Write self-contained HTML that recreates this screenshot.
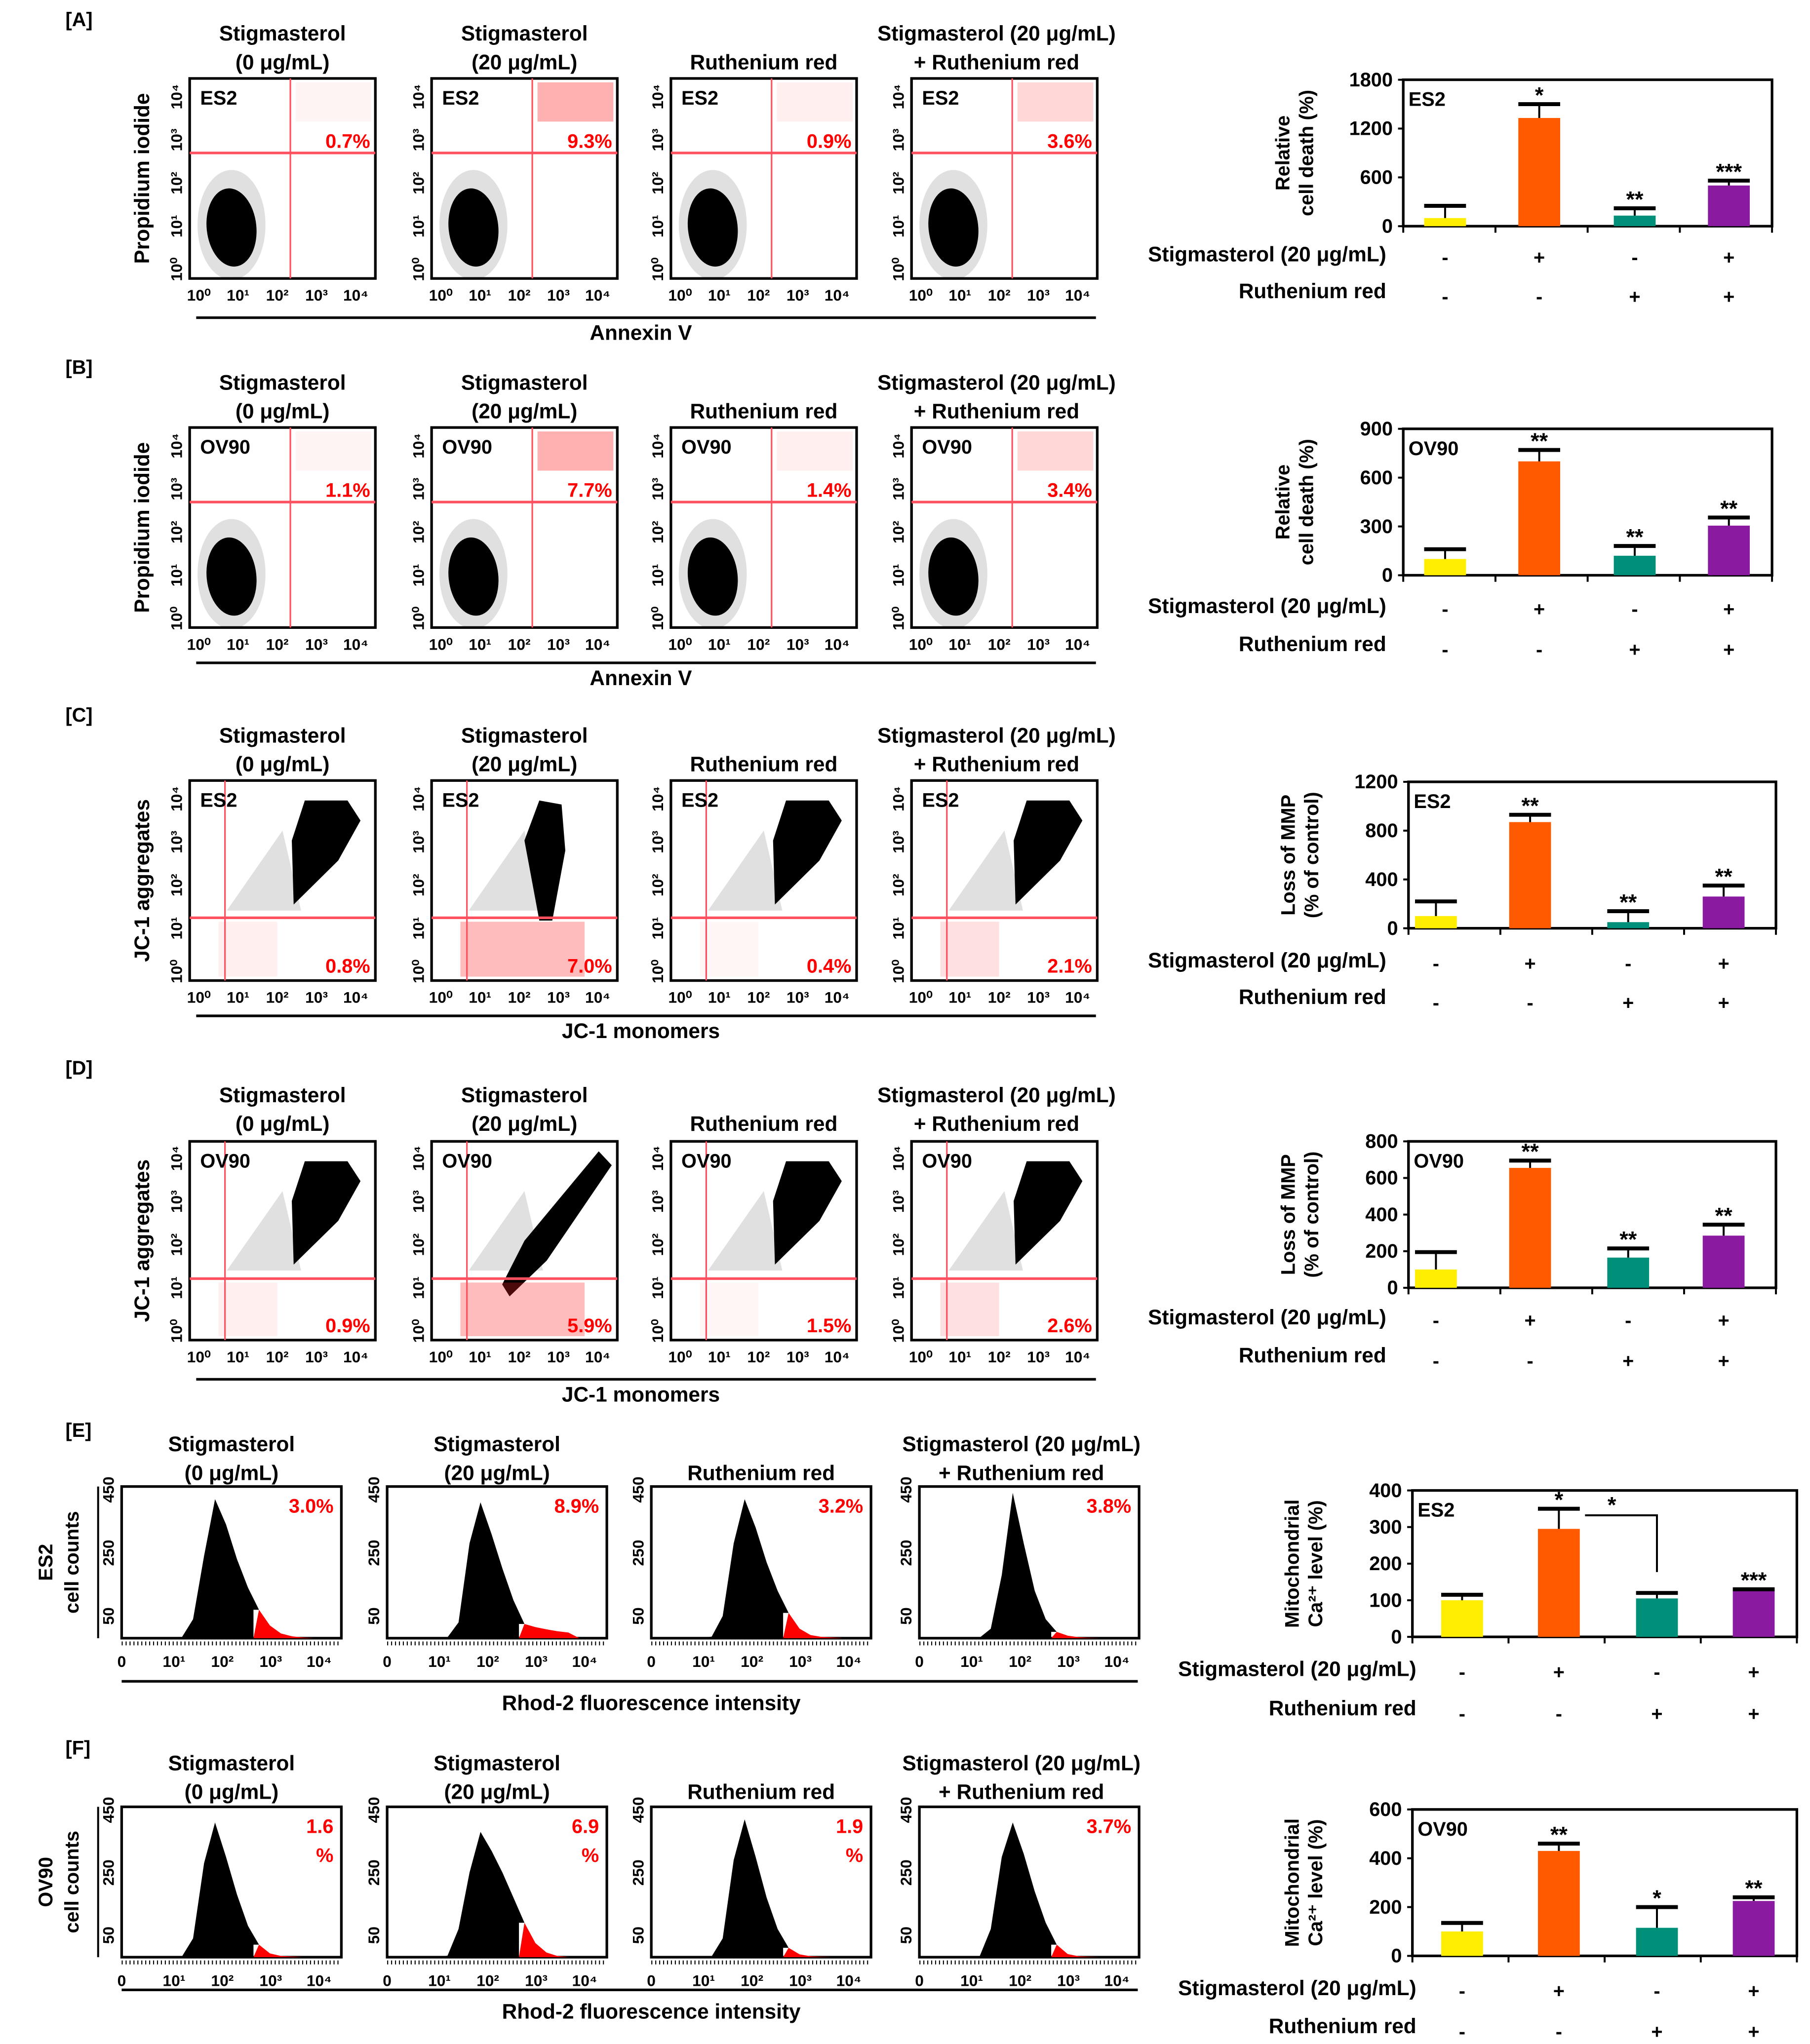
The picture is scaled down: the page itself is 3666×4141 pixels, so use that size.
<!DOCTYPE html>
<html><head><meta charset="utf-8">
<style>
html,body{margin:0;padding:0;background:#fff;}
svg{display:block;}
text{font-family:"Liberation Sans",sans-serif;font-weight:bold;}
</style></head>
<body>
<svg id="fig" xmlns="http://www.w3.org/2000/svg" width="3666" height="4141" viewBox="0 0 1384 1563.4"></svg>
<script>
// ---- data ----
const titles = [["Stigmasterol","(0 μg/mL)"],["Stigmasterol","(20 μg/mL)"],["Ruthenium red"],["Stigmasterol (20 μg/mL)","+ Ruthenium red"]];
const pctA = ["0.7%","9.3%","0.9%","3.6%"];
const pctB = ["1.1%","7.7%","1.4%","3.4%"];
const pctC = ["0.8%","7.0%","0.4%","2.1%"];
const pctD = ["0.9%","5.9%","1.5%","2.6%"];
const pctE = ["3.0%","8.9%","3.2%","3.8%"];
const pctF = ["1.6 %","6.9 %","1.9 %","3.7%"];
const ticksA = [0,600,1200,1800];
const valsA = [100,1330,130,500];
const errA = [150,170,90,60];
const starsA = ["","*","**","***"];
const ticksB = [0,300,600,900];
const valsB = [100,700,120,305];
const errB = [60,70,60,50];
const starsB = ["","**","**","**"];
const ticksC = [0,400,800,1200];
const valsC = [100,870,50,260];
const errC = [120,60,90,90];
const starsC = ["","**","**","**"];
const ticksD = [0,200,400,600,800];
const valsD = [100,655,165,285];
const errD = [95,40,50,60];
const starsD = ["","**","**","**"];
const ticksE = [0,100,200,300,400];
const valsE = [100,295,105,125];
const errE = [15,55,15,5];
const starsE = ["","*","","***"];
const ticksF = [0,200,400,600];
const valsF = [100,430,115,225];
const errF = [35,30,85,15];
const starsF = ["","**","*","**"];
const stigSigns = ["-","+","-","+"];
const rrSigns = ["-","-","+","+"];
const histE = [
 [0,0,0,0,0,4,60,260,440,360,250,160,90,40,15,6,2,0,0,0],
 [0,0,0,0,0,3,50,300,430,330,220,120,45,35,28,22,18,0,0,0],
 [0,0,0,0,0,5,70,300,440,350,240,150,80,30,10,4,2,0,0,0],
 [0,0,0,0,0,2,30,200,460,300,150,60,20,8,3,1,0,0,0,0]];
const histF = [
 [0,0,0,0,0,3,60,300,430,320,200,100,40,12,4,2,0,0,0,0],
 [0,0,0,0,0,5,90,270,400,340,270,190,110,45,15,4,0,0,0,0],
 [0,0,0,0,0,3,60,310,440,320,190,90,30,9,3,1,0,0,0,0],
 [0,0,0,0,0,4,90,320,430,330,210,110,40,10,3,1,0,0,0,0]];
const redStart = 12;

// ---- helpers ----
const NS="http://www.w3.org/2000/svg";
const svg=document.getElementById('fig');
function mk(tag,attrs,parent){const e=document.createElementNS(NS,tag);for(const k in attrs)e.setAttribute(k,attrs[k]);(parent||svg).appendChild(e);return e;}
function txt(x,y,s,size,opts,parent){const o=Object.assign({x:x,y:y,'font-size':size,fill:'#000'},opts||{});const t=mk('text',o,parent);t.textContent=s;return t;}

const colors=["#ffee00","#ff5a00","#00907a","#8a1aa0"];
const sup=["10⁰","10¹","10²","10³","10⁴"];
const sX=[145,330,513,697], sW=142;
const hX=[93,296,498,703], hW=168;

function panelLabel(s,y){const t=txt(50,y,s,15);

}

function drawTitles(xs,w,y1,y2){
 titles.forEach((tl,i)=>{const cx=xs[i]+w/2+(i==3?-6:0);
  if(tl.length==2){const a=txt(cx,y1,tl[0],16,{'text-anchor':'middle'});
   
   
   const b=txt(cx,y2,tl[1],16,{'text-anchor':'middle'});
   
   }
  else{const a=txt(cx,y2,tl[0],16,{'text-anchor':'middle'});
   
   }
 });
}

function scatterRow(y0,h,cell,pcts,type,ylab,xlab,xlabY){
 const yl=txt(0,0,ylab,16,{transform:`translate(114,${y0+h/2}) rotate(-90)`,'text-anchor':'middle'});
 
 
 sX.forEach((x,i)=>{
  const g=mk('g',{});
  
  
  const f=mk('rect',{x:x,y:y0,width:sW,height:h,fill:'#fff',stroke:'#000','stroke-width':2},g);
  
  
  const qx = type=='pi'? x+77 : x+27;
  const qy = type=='pi'? y0+57 : y0+105;
  if(type=='pi'){
   const c2=mk('ellipse',{cx:x+32,cy:y0+112,rx:26,ry:42,fill:'#000',opacity:0.12},g);
   
   
   const c=mk('ellipse',{cx:x+32,cy:y0+114,rx:19,ry:30,fill:'#000',transform:`rotate(-6 ${x+32} ${y0+114})`},g);
   
   
   const op=[0.05,0.35,0.07,0.18][i];
   const r=mk('rect',{x:qx+4,y:y0+3,width:x+sW-qx-7,height:30,fill:'#ff2020',opacity:op},g);
   
   
  } else {
   const sh = type=='jcD' && i==1;
   const pts = sh ? [[0.38,0.72],[0.5,0.5],[0.9,0.05],[0.97,0.12],[0.62,0.6],[0.42,0.78]]
            : i==1 ? [[0.58,0.7],[0.5,0.3],[0.58,0.1],[0.7,0.12],[0.72,0.35],[0.65,0.7]]
                   : [[0.56,0.62],[0.55,0.3],[0.62,0.1],[0.85,0.1],[0.92,0.2],[0.8,0.4]];
   const p2=mk('polygon',{points:`${x+0.2*sW},${y0+0.65*h} ${x+0.5*sW},${y0+0.25*h} ${x+0.6*sW},${y0+0.65*h}`,fill:'#000',opacity:0.12},g);
   
   
   const p=mk('polygon',{points:pts.map(q=>`${x+q[0]*sW},${y0+q[1]*h}`).join(' '),fill:'#000'},g);
   
   
   const op=[0.07,0.3,0.04,0.14][i];
   const r=mk('rect',{x:qx-5,y:qy+3,width:(i==1?95:45),height:h-(qy-y0)-6,fill:'#ff2020',opacity:op},g);
   
   
  }
  const l1=mk('line',{x1:qx,y1:y0,x2:qx,y2:y0+h,stroke:'#ff5060','stroke-width':1.2},g);
  
  
  const l2=mk('line',{x1:x,y1:qy,x2:x+sW,y2:qy,stroke:'#ff5060','stroke-width':2},g);
  
  
  const cl=txt(x+8,y0+20,cell,15,{},g);
  
  
  const py = type=='pi'? y0+53 : y0+h-6;
  const pt=txt(x+sW-4,py,pcts[i],15,{'text-anchor':'end',fill:'#ff0000'},g);
  
  
  for(let k=0;k<5;k++){
   const tx=x+7+k*30;
   const tl=txt(tx,y0+h+17,sup[k],12,{'text-anchor':'middle','font-weight':'normal'},g);
   
   
   const ty=y0+h-7-k*33;
   const yt=txt(0,0,sup[k],12,{transform:`translate(${x-6},${ty}) rotate(-90)`,'text-anchor':'middle','font-weight':'normal'},g);
   
   
  }
 });
 const bl=mk('line',{x1:150,y1:xlabY-17,x2:838,y2:xlabY-17,stroke:'#000','stroke-width':2});
 
 
 const xl=txt(490,xlabY,xlab,16,{'text-anchor':'middle'});
 
 
}

function histRow(y0,h,cellY,pcts,hists,xlabY,ylabCell){
 const a=txt(0,0,ylabCell,15,{transform:`translate(40,${y0+h/2}) rotate(-90)`,'text-anchor':'middle'});
 
 
 const b=txt(0,0,'cell counts',15,{transform:`translate(60,${y0+h/2}) rotate(-90)`,'text-anchor':'middle'});
 
 
 const vl=mk('line',{x1:75,y1:y0,x2:75,y2:y0+h,stroke:'#000','stroke-width':1.5});
 
 
 hX.forEach((x,i)=>{
  const g=mk('g',{});
  
  
  const f=mk('rect',{x:x,y:y0,width:hW,height:h,fill:'#fff',stroke:'#000','stroke-width':2},g);
  
  
  const bins=hists[i], bw=hW/bins.length, yMax=480;
  const yS=v=>y0+h-v/yMax*h;
  let dBlack=`M${x},${y0+h}`, dRed=`M${x+redStart*bw},${y0+h}`;
  bins.forEach((v,k)=>{const bx=x+k*bw+bw/2;
   if(k<=redStart) dBlack+=` L${bx},${yS(v)}`;
   if(k>=redStart) dRed+=` L${bx},${yS(v)}`;});
  dBlack+=` L${x+redStart*bw},${yS(bins[redStart])} L${x+redStart*bw},${y0+h} Z`;
  dRed+=` L${x+hW},${y0+h} Z`;
  const pb=mk('path',{d:dBlack,fill:'#000'},g);
  
  
  const pr=mk('path',{d:dRed,fill:'#ff0000'},g);
  
  
  const parts=pcts[i].split(' ');
  parts.forEach((s,j)=>{const t=txt(x+hW-6,y0+20+j*22,s,15,{'text-anchor':'end',fill:'#ff0000'},g);
   
   });
  ['0','10¹','10²','10³','10⁴'].forEach((s,k)=>{const tx=x+(k==0?0:k*37+3);
   const t=txt(tx,y0+h+22,s,12,{'text-anchor':'middle','font-weight':'normal'},g);
   
   });
  [50,250,450].forEach(v=>{const ty=y0+h-(v+20)/yMax*h;
   const t=txt(0,0,String(v),12,{transform:`translate(${x-6},${ty}) rotate(-90)`,'text-anchor':'middle','font-weight':'normal'},g);
   
   });
  const tk=mk('line',{x1:x,y1:y0+h+4,x2:x+hW,y2:y0+h+4,stroke:'#000','stroke-width':3,'stroke-dasharray':'0.8 2.2'},g);
  
  
 });
 const bl=mk('line',{x1:93,y1:xlabY-22,x2:870,y2:xlabY-22,stroke:'#000','stroke-width':2});
 
 
 const xl=txt(498,xlabY,'Rhod-2 fluorescence intensity',16,{'text-anchor':'middle'});
 
 
}

function barChart(bx,by,bw,bh,ticks,vals,errs,stars,cell,ylabs,row1,row2,labEnd,centers,bridge){
 const g=mk('g',{});
 
 
 const maxV=ticks[ticks.length-1];
 const yS=v=>by+bh-v/maxV*bh;
 const fr=mk('rect',{x:bx,y:by,width:bw,height:bh,fill:'none',stroke:'#000','stroke-width':2},g);
 
 
 ticks.forEach(t=>{const y=yS(t);
  const l=mk('line',{x1:bx-4,y1:y,x2:bx,y2:y,stroke:'#000','stroke-width':1.5},g);
  
  
  const tl=txt(bx-8,y+5,String(t),15,{'text-anchor':'end'},g);
  
  });
 for(let k=0;k<=4;k++){const x=bx+k*bw/4;
  const l=mk('line',{x1:x,y1:by+bh,x2:x,y2:by+bh+5,stroke:'#000','stroke-width':1.5},g);
  
  }
 ylabs.forEach((s,j)=>{const t=txt(0,0,s,15,{transform:`translate(${bx-(ylabs.length==2?87-j*18:60)},${by+bh/2}) rotate(-90)`,'text-anchor':'middle'},g);
  
  });
 const cl=txt(bx+4,by+20,cell,15,{},g);
 
 
 vals.forEach((v,i)=>{const cx=centers[i];
  const r=mk('rect',{x:cx-16,y:yS(v),width:32,height:by+bh-yS(v),fill:colors[i]},g);
  
  
  const ey=yS(v+errs[i]);
  const e1=mk('line',{x1:cx,y1:yS(v),x2:cx,y2:ey,stroke:'#000','stroke-width':1.5},g);
  
  
  const e2=mk('line',{x1:cx-16,y1:ey,x2:cx+16,y2:ey,stroke:'#000','stroke-width':3},g);
  
  
  if(stars[i]){const s=txt(cx,ey-1,stars[i],17,{'text-anchor':'middle'},g);
   
   }
  const s1=txt(cx,row1+2,stigSigns[i],15,{'text-anchor':'middle'},g);
  
  
  const s2=txt(cx,row2+4,rrSigns[i],15,{'text-anchor':'middle'},g);
  
  
 });
 if(bridge){const yb=yS(vals[1]+errs[1])+5;
  const pl=mk('polyline',{points:`${centers[1]+20},${yb} ${centers[2]},${yb} ${centers[2]},${yS(vals[2]+errs[2])-16}`,fill:'none',stroke:'#000','stroke-width':1.5},g);
  
  
  const st=txt((centers[1]+centers[2])/2+3,yb-2,'*',17,{'text-anchor':'middle'},g);
  
  }
 const r1=txt(labEnd,row1,'Stigmasterol (20 μg/mL)',16,{'text-anchor':'end'},g);
 
 
 const r2=txt(labEnd,row2,'Ruthenium red',16,{'text-anchor':'end'},g);
 
 
}

const cA=[1105,1177,1250,1322], cE=[1118,1192,1267,1341];
panelLabel('[A]',20);
drawTitles(sX,sW,31,53);
scatterRow(60,153,'ES2',pctA,'pi','Propidium iodide','Annexin V',260);
barChart(1073,61,282,112,ticksA,valsA,errA,starsA,'ES2',['Relative','cell death (%)'],200,228,1060,cA,false);
panelLabel('[B]',286);
drawTitles(sX,sW,298,320);
scatterRow(327,153,'OV90',pctB,'pi','Propidium iodide','Annexin V',524);
barChart(1073,328,282,112,ticksB,valsB,errB,starsB,'OV90',['Relative','cell death (%)'],469,498,1060,cA,false);
panelLabel('[C]',552);
drawTitles(sX,sW,568,590);
scatterRow(597,153,'ES2',pctC,'jc','JC-1 aggregates','JC-1 monomers',794);
barChart(1077,598,281,112,ticksC,valsC,errC,starsC,'ES2',['Loss of MMP','(% of control)'],740,768,1060,[1098,1170,1245,1318],false);
panelLabel('[D]',822);
drawTitles(sX,sW,843,865);
scatterRow(873,152,'OV90',pctD,'jcD','JC-1 aggregates','JC-1 monomers',1072);
barChart(1077,873,281,112,ticksD,valsD,errD,starsD,'OV90',['Loss of MMP','(% of control)'],1013,1042,1060,[1098,1170,1245,1318],false);
panelLabel('[E]',1099);
drawTitles(hX,hW,1110,1132);
histRow(1137,116,0,pctE,histE,1308,'ES2');
barChart(1080,1140,294,112,ticksE,valsE,errE,starsE,'ES2',['Mitochondrial','Ca²⁺ level (%)'],1282,1312,1083,cE,true);
panelLabel('[F]',1342);
drawTitles(hX,hW,1354,1376);
histRow(1382,115,0,pctF,histF,1544,'OV90');
barChart(1080,1384,294,112,ticksF,valsF,errF,starsF,'OV90',['Mitochondrial','Ca²⁺ level (%)'],1526,1555,1083,cE,false);
</script>
</body></html>
